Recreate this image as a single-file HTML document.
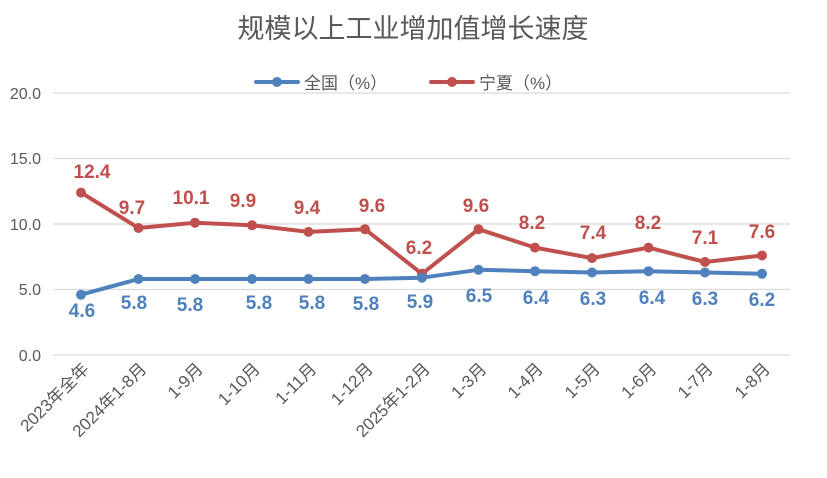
<!DOCTYPE html>
<html><head><meta charset="utf-8"><style>
body{margin:0;background:#fff;}
svg text{font-family:"Liberation Sans","Noto Sans CJK SC",sans-serif;}
</style></head><body>
<svg width="827" height="473" viewBox="0 0 827 473" xmlns="http://www.w3.org/2000/svg">
<rect width="827" height="473" fill="#fff"/>
<text x="413" y="38" text-anchor="middle" font-size="27" fill="#595959">规模以上工业增加值增长速度</text>
<g stroke="#d9d9d9" stroke-width="1.3">
<line x1="53" y1="93" x2="790" y2="93"/><line x1="53" y1="158.5" x2="790" y2="158.5"/>
<line x1="53" y1="224" x2="790" y2="224"/><line x1="53" y1="289.5" x2="790" y2="289.5"/>
<line x1="53" y1="355" x2="790" y2="355"/>
</g>
<g font-size="16" fill="#595959" text-anchor="end">
<text x="41" y="99">20.0</text><text x="41" y="164">15.0</text><text x="41" y="230">10.0</text><text x="41" y="295">5.0</text><text x="41" y="361">0.0</text>
</g>
<g stroke-linecap="round">
<line x1="256" y1="82" x2="298" y2="82" stroke="#4f81bd" stroke-width="4"/><circle cx="277" cy="82" r="5" fill="#4f81bd"/>
<line x1="431" y1="82" x2="473" y2="82" stroke="#c0504d" stroke-width="4"/><circle cx="452" cy="82" r="5" fill="#c0504d"/>
</g>
<text x="304" y="89" font-size="17" fill="#595959">全国（%）</text>
<text x="479" y="89" font-size="17" fill="#595959">宁夏（%）</text>
<polyline fill="none" stroke="#c0504d" stroke-width="4" stroke-linejoin="round" points="81,192.6 138.5,228 195,222.7 252,225.3 308.5,231.9 365,229.2 422,273.8 478.5,229.2 535,247.6 592,258.1 648.5,247.6 705,262 762,255.5"/>
<polyline fill="none" stroke="#4f81bd" stroke-width="4" stroke-linejoin="round" points="81,294.7 138.5,279 195,279 252,279 308.5,279 365,279 422,277.7 478.5,269.8 535,271.2 592,272.5 648.5,271.2 705,272.5 762,273.8"/>
<g fill="#c0504d">
<circle cx="81" cy="192.6" r="5"/><circle cx="138.5" cy="228" r="5"/><circle cx="195" cy="222.7" r="5"/><circle cx="252" cy="225.3" r="5"/><circle cx="308.5" cy="231.9" r="5"/><circle cx="365" cy="229.2" r="5"/><circle cx="422" cy="273.8" r="5"/><circle cx="478.5" cy="229.2" r="5"/><circle cx="535" cy="247.6" r="5"/><circle cx="592" cy="258.1" r="5"/><circle cx="648.5" cy="247.6" r="5"/><circle cx="705" cy="262" r="5"/><circle cx="762" cy="255.5" r="5"/>
</g>
<g fill="#4f81bd">
<circle cx="81" cy="294.7" r="5"/><circle cx="138.5" cy="279" r="5"/><circle cx="195" cy="279" r="5"/><circle cx="252" cy="279" r="5"/><circle cx="308.5" cy="279" r="5"/><circle cx="365" cy="279" r="5"/><circle cx="422" cy="277.7" r="5"/><circle cx="478.5" cy="269.8" r="5"/><circle cx="535" cy="271.2" r="5"/><circle cx="592" cy="272.5" r="5"/><circle cx="648.5" cy="271.2" r="5"/><circle cx="705" cy="272.5" r="5"/><circle cx="762" cy="273.8" r="5"/>
</g>
<g font-size="19" font-weight="bold" fill="#c0504d" text-anchor="middle">
<text x="92" y="178">12.4</text><text x="132" y="214">9.7</text><text x="191" y="204">10.1</text><text x="243" y="207">9.9</text><text x="307" y="214">9.4</text><text x="372" y="212">9.6</text><text x="419" y="254">6.2</text><text x="476" y="212">9.6</text><text x="532" y="229">8.2</text><text x="593" y="239">7.4</text><text x="648" y="229">8.2</text><text x="705" y="244">7.1</text><text x="762" y="238">7.6</text>
</g>
<g font-size="19" font-weight="bold" fill="#4f81bd" text-anchor="middle">
<text x="82" y="317">4.6</text><text x="134" y="309">5.8</text><text x="190" y="311">5.8</text><text x="259" y="309">5.8</text><text x="312" y="309">5.8</text><text x="366" y="310">5.8</text><text x="420" y="308">5.9</text><text x="479" y="302">6.5</text><text x="536" y="304">6.4</text><text x="593" y="305">6.3</text><text x="652" y="304">6.4</text><text x="705" y="305">6.3</text><text x="762" y="306">6.2</text>
</g>
<g font-size="17" fill="#595959" text-anchor="end">
<text transform="translate(90,370) rotate(-45)">2023年全年</text>
<text transform="translate(147.5,370) rotate(-45)">2024年1-8月</text>
<text transform="translate(204,370) rotate(-45)">1-9月</text>
<text transform="translate(261,370) rotate(-45)">1-10月</text>
<text transform="translate(317.5,370) rotate(-45)">1-11月</text>
<text transform="translate(374,370) rotate(-45)">1-12月</text>
<text transform="translate(431,370) rotate(-45)">2025年1-2月</text>
<text transform="translate(487.5,370) rotate(-45)">1-3月</text>
<text transform="translate(544,370) rotate(-45)">1-4月</text>
<text transform="translate(601,370) rotate(-45)">1-5月</text>
<text transform="translate(657.5,370) rotate(-45)">1-6月</text>
<text transform="translate(714,370) rotate(-45)">1-7月</text>
<text transform="translate(771,370) rotate(-45)">1-8月</text>
</g>
</svg>
</body></html>
